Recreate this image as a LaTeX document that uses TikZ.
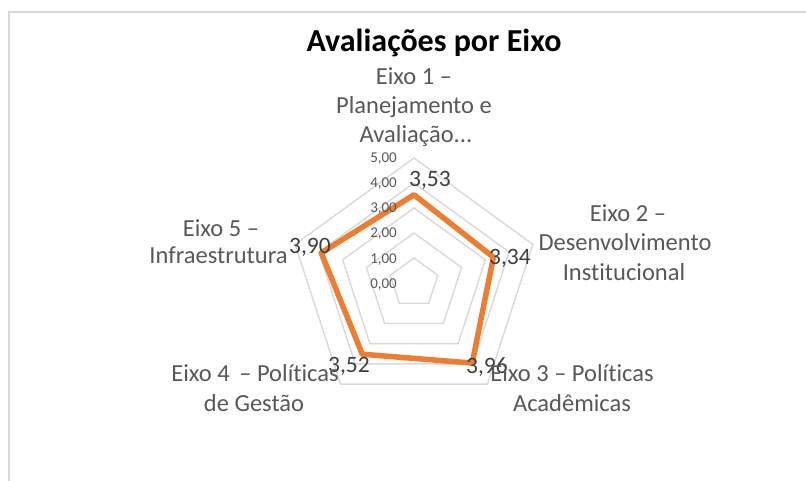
\documentclass[tikz,border=0pt]{standalone}
\usepackage{fontspec}
\setmainfont{Carlito}[Ligatures={NoCommon,NoContextual}]
\definecolor{gridc}{RGB}{217,217,217}
\definecolor{axc}{RGB}{89,89,89}
\definecolor{serc}{RGB}{237,125,49}
\definecolor{lblc}{RGB}{64,64,64}
\begin{document}
\begin{tikzpicture}[x=1pt,y=1pt,
  axlbl/.style={text=axc,font=\fontsize{24.5}{24.5}\selectfont,anchor=base,inner sep=0pt},
  ticklbl/.style={text=axc,font=\fontsize{15}{15}\selectfont,anchor=base east,inner sep=0pt},
  datalbl/.style={text=lblc,font=\fontsize{23.5}{23.5}\selectfont,anchor=base,inner sep=0pt},
  gridline/.style={draw=gridc,line width=1.4pt,line join=miter},
  series/.style={draw=serc,line width=5.5pt,line join=round}]
\useasboundingbox (0,0) rectangle (806,-481);
\fill[white] (0,0) rectangle (806,-481);
\draw[draw=gridc,line width=1.5pt] (9,-490) -- (9,-12) -- (815,-12);
\begin{scope}[shift={(414,-283)}]
  \foreach \r in {1,...,5}{
    \draw[gridline] (90:25*\r) -- (18:25*\r) -- (-54:25*\r) -- (-126:25*\r) -- (162:25*\r) -- cycle;
  }
  \coordinate (p1) at (90:{25*3.53});
  \coordinate (p2) at (18:{25*3.34});
  \coordinate (p3) at (-54:{25*3.96});
  \coordinate (p4) at (-126:{25*3.52});
  \coordinate (p5) at (162:{25*3.90});
  \draw[series] (p1) -- (p2) -- (p3) -- (p4) -- (p5) -- cycle;
\end{scope}
% tick labels
\node[ticklbl] (t5) at (397,-163) {5,00};
\node[ticklbl] (t4) at (397,-188) {4,00};
\node[ticklbl] (t3) at (397,-213) {3,00};
\node[ticklbl] (t2) at (397,-238) {2,00};
\node[ticklbl] (t1) at (397,-263) {1,00};
\node[ticklbl] (t0) at (397,-288) {0,00};
% data labels
\node[datalbl] (d1) at (430,-186.5) {3,53};
\node[datalbl] (d2) at (510,-265) {3,34};
\node[datalbl] (d3) at (487,-373) {3,96};
\node[datalbl] (d4) at (349,-372) {3,52};
\node[datalbl] (d5) at (310,-254) {3,90};
% title
\node[font=\bfseries\fontsize{32}{32}\selectfont,anchor=base,inner sep=0pt] (title) at (434,-51.5) {Avaliações por Eixo};
% axis labels
\node[axlbl] (a1a) at (414,-85) {Eixo 1 –};
\node[axlbl] (a1b) at (414,-114) {Planejamento e};
\node[axlbl] (a1c) at (416,-143) {Avaliação...};
\node[axlbl] (a2a) at (628,-222) {Eixo 2 –};
\node[axlbl] (a2b) at (625,-251) {Desenvolvimento};
\node[axlbl] (a2c) at (624,-280) {Institucional};
\node[axlbl] (a3a) at (572,-381.5) {Eixo 3 – Políticas};
\node[axlbl] (a3b) at (572,-411) {Acadêmicas};
\node[axlbl] (a4a) at (255,-381.5) {Eixo 4 \,– Políticas};
\node[axlbl] (a4b) at (254,-411) {de Gestão};
\node[axlbl] (a5a) at (221,-236.5) {Eixo 5 –};
\node[axlbl] (a5b) at (218.5,-264) {Infraestrutura};
\end{tikzpicture}
\end{document}
